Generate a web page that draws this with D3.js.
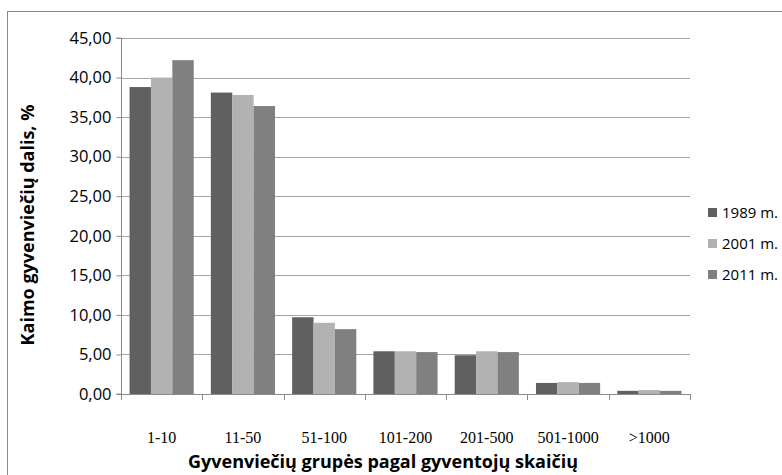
<!DOCTYPE html>
<html>
<head>
<meta charset="utf-8">
<script src="https://cdn.jsdelivr.net/npm/d3@7"></script>
<style>
  body { margin: 0; background: #fff; }
  svg { display: block; }
</style>
</head>
<body>
<div id="chart"></div>
<script>
const categories = ['1-10', '11-50', '51-100', '101-200', '201-500', '501-1000', '>1000']
const seriesNames = ['1989 m.', '2001 m.', '2011 m.']
const values1989 = [38.8, 38.1, 9.7, 5.4, 4.9, 1.4, 0.4]
const values2001 = [40.0, 37.8, 9.0, 5.4, 5.4, 1.5, 0.5]
const values2011 = [42.2, 36.4, 8.2, 5.3, 5.3, 1.4, 0.4]
const yTicks = [0, 5, 10, 15, 20, 25, 30, 35, 40, 45]
const colors = ['#606060', '#b2b2b2', '#808080']

const width = 782
const height = 475
const margin = { top: 38, right: 92, bottom: 81, left: 121 }

const svg = d3.select('#chart')
  .append('svg')
  .attr('width', width)
  .attr('height', height)

// chart area border (cut off at right and bottom like the original)
svg.append('rect')
  .attr('x', 7.5)
  .attr('y', 11.5)
  .attr('width', 800)
  .attr('height', 500)
  .attr('fill', 'none')
  .attr('stroke', '#8c8c8c')
  .attr('stroke-width', 1)

const x0 = d3.scaleBand()
  .domain(categories)
  .range([margin.left, width - margin.right])
  .paddingInner(0.8 / 3.8)
  .paddingOuter(0.4 / 3.8)

const x1 = d3.scaleBand()
  .domain(seriesNames)
  .range([0, x0.bandwidth()])

const y = d3.scaleLinear()
  .domain([0, 45])
  .range([height - margin.bottom, margin.top])

// gridlines
svg.append('g')
  .selectAll('line')
  .data(yTicks.filter(d => d > 0))
  .join('line')
  .attr('x1', margin.left)
  .attr('x2', width - margin.right)
  .attr('y1', d => Math.round(y(d)) + 0.5)
  .attr('y2', d => Math.round(y(d)) + 0.5)
  .attr('stroke', '#a6a6a6')
  .attr('stroke-width', 1)

// bars
const series = [values1989, values2001, values2011]
const groups = svg.append('g')
  .selectAll('g')
  .data(categories)
  .join('g')
  .attr('transform', d => `translate(${x0(d)},0)`)

groups.selectAll('rect')
  .data((c, i) => seriesNames.map((s, k) => ({ s, k, v: series[k][i] })))
  .join('rect')
  .attr('x', d => x1(d.s))
  .attr('width', x1.bandwidth())
  .attr('y', d => y(d.v))
  .attr('height', d => y(0) - y(d.v))
  .attr('fill', d => colors[d.k])

// y axis
const yAxis = d3.axisLeft(y)
  .tickValues(yTicks)
  .tickSize(5)
  .tickPadding(5)
  .tickFormat(d => d3.format('.2f')(d).replace('.', ','))

const yg = svg.append('g')
  .attr('transform', `translate(${margin.left + 0.5},0)`)
  .call(yAxis)
yg.select('.domain').attr('stroke', '#8c8c8c').attr('d', `M-5,${y(0)}H0V${y(45)}H-5`)
yg.selectAll('.tick line').attr('stroke', '#8c8c8c')
yg.selectAll('.tick text')
  .attr('fill', '#000')
  .style('font-family', '"Open Sans", sans-serif')
  .style('font-size', '16.5px')

// x axis
const xEdges = d3.range(categories.length + 1)
  .map(i => margin.left + i * (width - margin.left - margin.right) / categories.length)

const xg = svg.append('g')
xg.append('line')
  .attr('x1', margin.left)
  .attr('x2', width - margin.right)
  .attr('y1', Math.round(y(0)) + 0.5)
  .attr('y2', Math.round(y(0)) + 0.5)
  .attr('stroke', '#8c8c8c')
xg.selectAll('line.tick')
  .data(xEdges)
  .join('line')
  .attr('class', 'tick')
  .attr('x1', d => Math.round(d) + 0.5)
  .attr('x2', d => Math.round(d) + 0.5)
  .attr('y1', Math.round(y(0)))
  .attr('y2', Math.round(y(0)) + 6)
  .attr('stroke', '#8c8c8c')
xg.selectAll('text')
  .data(categories)
  .join('text')
  .attr('x', d => x0(d) + x0.bandwidth() / 2)
  .attr('y', y(0) + 49)
  .attr('text-anchor', 'middle')
  .style('font-family', '"Liberation Serif", serif')
  .style('font-size', '16px')
  .text(d => d)

// axis titles
svg.append('text')
  .attr('x', 383)
  .attr('y', 468)
  .attr('text-anchor', 'middle')
  .style('font-family', '"Open Sans", sans-serif')
  .style('font-weight', 'bold')
  .style('font-size', '18px')
  .text('Gyvenviečių grupės pagal gyventojų skaičių')

svg.append('text')
  .attr('transform', 'translate(34,225) rotate(-90)')
  .attr('text-anchor', 'middle')
  .style('font-family', '"Open Sans", sans-serif')
  .style('font-weight', 'bold')
  .style('font-size', '18px')
  .text('Kaimo gyvenviečių dalis, %')

// legend
const legend = svg.append('g')
  .selectAll('g')
  .data(seriesNames)
  .join('g')
  .attr('transform', (d, i) => `translate(708,${213 + i * 31})`)
legend.append('rect')
  .attr('x', 0)
  .attr('y', -5)
  .attr('width', 9)
  .attr('height', 9)
  .attr('fill', (d, i) => colors[i])
legend.append('text')
  .attr('x', 14)
  .attr('y', 5)
  .style('font-family', '"Open Sans", sans-serif')
  .style('font-size', '15px')
  .text(d => d)
</script>
</body>
</html>
